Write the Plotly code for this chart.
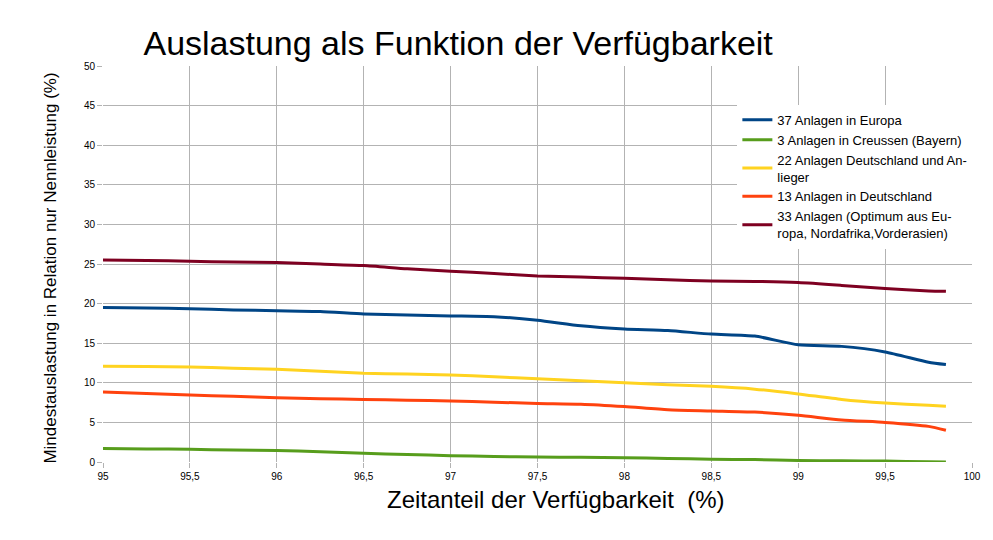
import plotly.graph_objects as go

# Verfügbarkeit (%)
x_vals = [95, 95.25, 95.5, 95.75, 96, 96.25, 96.5, 96.75, 97, 97.25, 97.5,
          97.75, 98, 98.25, 98.5, 98.75, 99, 99.25, 99.5, 99.75, 99.85]

europa_37 = [19.5, 19.45, 19.35, 19.2, 19.1, 19.0, 18.7, 18.55, 18.45, 18.35, 17.9,
             17.2, 16.8, 16.6, 16.15, 15.9, 14.8, 14.6, 13.9, 12.6, 12.3]
creussen_3 = [1.7, 1.65, 1.6, 1.5, 1.45, 1.3, 1.1, 0.95, 0.8, 0.7, 0.63,
              0.6, 0.55, 0.45, 0.35, 0.3, 0.2, 0.15, 0.12, 0.03, 0.0]
deutschland_anlieger_22 = [12.1, 12.05, 12.0, 11.85, 11.7, 11.45, 11.2, 11.1, 11.0, 10.75, 10.5,
                           10.25, 10.0, 9.75, 9.55, 9.2, 8.6, 7.9, 7.45, 7.15, 7.05]
deutschland_13 = [8.85, 8.65, 8.45, 8.3, 8.1, 8.0, 7.9, 7.8, 7.7, 7.55, 7.4,
                  7.3, 7.0, 6.6, 6.45, 6.3, 5.9, 5.3, 5.0, 4.5, 4.0]
optimum_33 = [25.5, 25.45, 25.35, 25.25, 25.2, 25.0, 24.8, 24.4, 24.1, 23.8, 23.5,
              23.35, 23.2, 23.0, 22.85, 22.8, 22.65, 22.3, 21.9, 21.6, 21.55]

series_names = ["37 Anlagen in Europa",
                "3 Anlagen in Creussen (Bayern)",
                "22 Anlagen Deutschland und An-<br>lieger",
                "13 Anlagen in Deutschland",
                "33 Anlagen (Optimum aus Eu-<br>ropa, Nordafrika,Vorderasien)"]
series_vals = [europa_37, creussen_3, deutschland_anlieger_22, deutschland_13, optimum_33]
colors = ["#004586", "#579d1c", "#ffd320", "#ff420e", "#7e0021"]

x_ticks = [95, 95.5, 96, 96.5, 97, 97.5, 98, 98.5, 99, 99.5, 100]
x_ticktext = ["95", "95,5", "96", "96,5", "97", "97,5", "98", "98,5", "99", "99,5", "100"]

fig = go.Figure()
for name, vals, col in zip(series_names, series_vals, colors):
    fig.add_trace(go.Scatter(x=x_vals, y=vals, name=name, mode="lines",
                             line=dict(color=col, width=3, shape="spline", smoothing=0.6)))

axis_font = dict(family="Liberation Sans", size=10, color="black")
fig.update_xaxes(range=[95, 100], tickvals=x_ticks, ticktext=x_ticktext,
                 showgrid=True, gridcolor="#b3b3b3", gridwidth=1, zeroline=False,
                 showline=False, ticks="outside", ticklen=5, tickcolor="#b3b3b3",
                 tickfont=axis_font)
fig.update_yaxes(range=[0, 50], dtick=5, showgrid=True, gridcolor="#b3b3b3", gridwidth=1,
                 zeroline=False, showline=False, ticks="outside", ticklen=5,
                 tickcolor="#b3b3b3", tickfont=axis_font)

# page body adds an 8px margin, so the figure is 8px smaller than the window
fig.update_layout(
    width=985, height=532,
    margin=dict(l=95, r=12, t=58, b=78),
    plot_bgcolor="white", paper_bgcolor="white",
    font=dict(family="Liberation Sans", color="black"),
    title=dict(text="Auslastung als Funktion der Verfügbarkeit", x=0.457, xanchor="center",
               y=0.912, yanchor="bottom", yref="container",
               font=dict(family="Liberation Sans", size=34, color="black")),
    legend=dict(x=0.73, y=0.902, xanchor="left", yanchor="top", bgcolor="white",
                font=dict(family="Liberation Sans", size=13, color="black"),
                itemwidth=30, tracegroupgap=0),
    annotations=[
        dict(text="Zeitanteil der Verfügbarkeit\u00a0 (%)", xref="paper", yref="paper",
             x=0.521, y=-0.055, xanchor="center", yanchor="top", showarrow=False,
             font=dict(family="Liberation Sans", size=24, color="black")),
        dict(text="Mindestauslastung in Relation nur Nennleistung (%)", xref="paper", yref="paper",
             x=-0.047, y=0.49, xanchor="right", yanchor="middle", textangle=-90, showarrow=False,
             font=dict(family="Liberation Sans", size=17, color="black")),
    ],
)

fig.write_html("out.html")
